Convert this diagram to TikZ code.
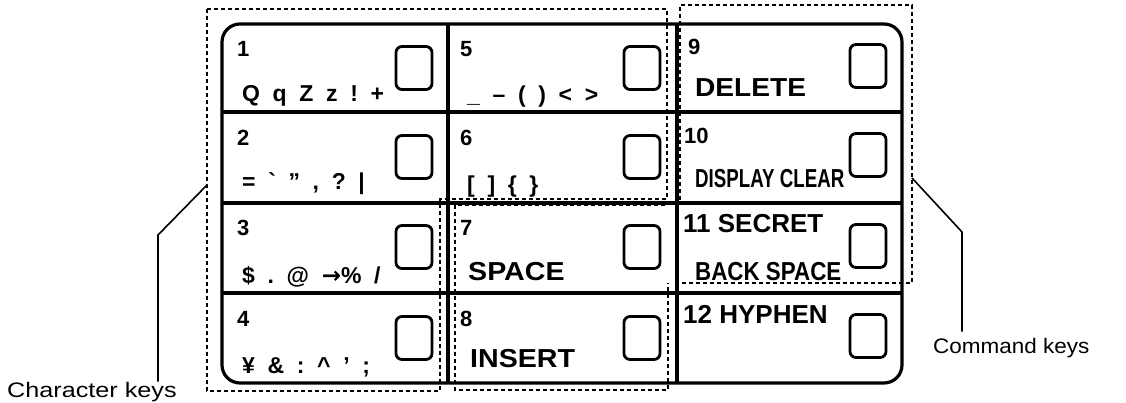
\documentclass[tikz,border=0pt]{standalone}
\usepackage{fontspec}
\usepackage{graphicx}
\setmainfont{Liberation Sans}
\newfontfamily\arrowfont{DejaVu Sans}

\tikzset{
  keyframe/.style={line width=3.2pt, rounded corners=18pt},
  divider/.style={line width=3.2pt},
  keycap/.style={draw, line width=2.8pt, rounded corners=6pt, minimum width=36pt, minimum height=43pt, inner sep=0pt},
  zone/.style={line width=2pt, dash pattern=on 4pt off 3pt},
  callout/.style={line width=1.6pt},
  keynum/.style={anchor=north west, inner sep=0pt, font=\fontsize{22}{22}\selectfont\bfseries},
  keysym/.style={anchor=base west, inner sep=0pt, font=\fontsize{23}{23}\selectfont\bfseries},
  keyword/.style={anchor=base west, inner sep=0pt, font=\fontsize{26}{26}\selectfont\bfseries},
  tag/.style={anchor=base west, inner sep=0pt, font=\fontsize{21}{21}\selectfont},
}
\newcommand\gap{\hspace{0.55em}}
\newcommand\stretched[2]{\scalebox{#1}[1]{#2}}

\begin{document}
\begin{tikzpicture}[x=1pt, y=-1pt]
    \useasboundingbox (0,0) rectangle (1126,403);
    % Keypad frame and grid
    \draw[keyframe] (222,24) rectangle (902,383);
    \draw[divider] (448,24) -- (448,383);
    \draw[divider] (677,24) -- (677,383);
    \draw[divider] (222,112) -- (902,112);
    \draw[divider] (222,203) -- (902,203);
    \draw[divider] (222,293) -- (902,293);
    % Column 1
    \node[keynum] (n1) at (237,41) {1};
    \node[keysym] (s1) at (242,102) {Q\gap q\gap Z\gap z\gap !\gap +};
    \node[keycap] (k1) at (414,68) {};
    \node[keynum] (n2) at (237,130) {2};
    \node[keysym] (s2) at (242,190) {=\gap\textasciigrave\gap ”\gap ,\gap ?\gap |};
    \node[keycap] (k2) at (414,157) {};
    \node[keynum] (n3) at (237,220) {3};
    \node[keysym] (s3) at (242,283) {\$\gap .\gap @\gap{\arrowfont\bfseries →}\%\gap /};
    \node[keycap] (k3) at (414,247) {};
    \node[keynum] (n4) at (237,311) {4};
    \node[keysym] (s4) at (242,373) {¥\gap \&\gap :\gap \textasciicircum\gap ’\gap ;};
    \node[keycap] (k4) at (414,338) {};
    % Column 2
    \node[keynum] (n5) at (460,41) {5};
    \node[keysym] (s5) at (467,103) {\_\gap –\gap (\gap )\gap <\gap >};
    \node[keycap] (k5) at (642,68) {};
    \node[keynum] (n6) at (460,130) {6};
    \node[keysym] (s6) at (467,193) {[\gap ]\gap \{\gap \}};
    \node[keycap] (k6) at (642,157) {};
    \node[keynum] (n7) at (460,220) {7};
    \node[keyword] (s7) at (468,280) {\stretched{1.1}{SPACE}};
    \node[keycap] (k7) at (642,247) {};
    \node[keynum] (n8) at (460,311) {8};
    \node[keyword] (s8) at (470,367) {\stretched{1.1}{INSERT}};
    \node[keycap] (k8) at (642,338) {};
    % Column 3
    \node[keynum] (n9) at (688,39) {9};
    \node[keyword] (s9) at (695,97) {\stretched{1.08}{DELETE}};
    \node[keycap] (k9) at (868,66) {};
    \node[keynum] (n10) at (684,128) {10};
    \node[keyword] (s10) at (695,188) {\stretched{0.72}{DISPLAY CLEAR}};
    \node[keycap] (k10) at (868,155) {};
    \node[keyword] (n11) at (683,233) {11 SECRET};
    \node[keyword] (s11) at (695,280) {\stretched{0.86}{BACK SPACE}};
    \node[keycap] (k11) at (868,246) {};
    \node[keyword] (n12) at (683,323) {12 HYPHEN};
    \node[keycap] (k12) at (868,336) {};
    % Dotted groups
    \draw[zone] (207,9) -- (667,9) -- (667,199) -- (440,199) -- (440,391) -- (207,391) -- cycle;
    \draw[zone] (665,205) -- (455,205) -- (455,390) -- (668,390) -- (668,283);
    \draw[zone] (680,200) -- (680,5) -- (912,5) -- (912,283) -- (677,283);
    % Callouts
    \coordinate (chartip) at (207,185);
    \coordinate (charbend) at (158,235);
    \coordinate (cmdtip) at (912,178);
    \coordinate (cmdbend) at (962,232);
    \node[tag] (charlabel) at (7,397) {\stretched{1.2}{Character keys}};
    \node[tag] (cmdlabel) at (933,353) {\stretched{1.07}{Command keys}};
    \draw[callout] (charlabel.north -| charbend) -- (charbend) -- (chartip);
    \draw[callout] (cmdlabel.north -| cmdbend) ++(0,-6) -- (cmdbend) -- (cmdtip);
\end{tikzpicture}
\end{document}
